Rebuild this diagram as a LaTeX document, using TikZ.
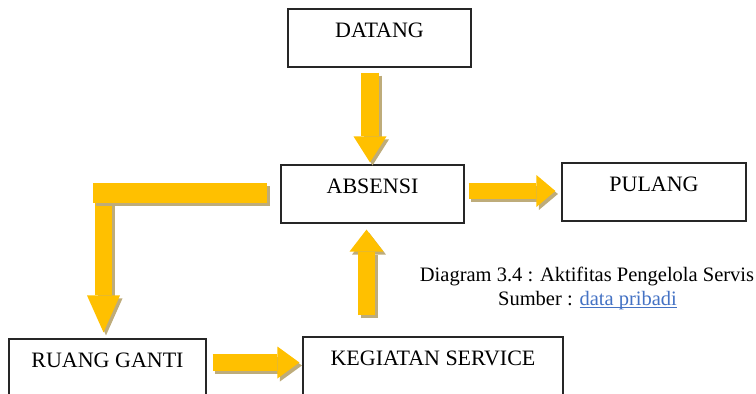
\documentclass[tikz,border=0pt]{standalone}
\usepackage{fontspec}
\setmainfont{Liberation Serif}
\usetikzlibrary{arrows.meta,calc}
\definecolor{arrowyellow}{RGB}{255,192,0}
\definecolor{arrowshadow}{RGB}{190,172,122}
\definecolor{linkblue}{RGB}{68,114,196}
\newcommand\yarrow[2]{%
  \draw[#1, draw=arrowshadow, transform canvas={shift={(2.5pt,-3pt)}}] #2;
  \draw[#1, draw=arrowyellow] #2;}
\newcommand\linkul[1]{\setbox0\hbox{#1}\rlap{\rule[-2.6pt]{\wd0}{0.9pt}}\box0}
\begin{document}
\begin{tikzpicture}[x=1pt,y=-1pt,
  box/.style={draw=black!85, line width=1.2pt, inner sep=0pt, minimum height=58pt,
    text height=28.5pt, text depth=29.5pt, font=\fontsize{22}{26}\selectfont},
  caption/.style={inner sep=0pt, font=\fontsize{20.5}{24.7}\selectfont}]
\clip (0,0) rectangle (756,394);
\node[box, minimum width=183pt] (datang)   at (379.5,38)  {DATANG};
\node[box, minimum width=183pt] (absensi)  at (372.5,194) {ABSENSI};
\node[box, minimum width=184pt] (pulang)   at (654,192)   {PULANG};
\node[box, minimum width=197pt] (ruang)    at (107.5,368) {RUANG GANTI};
\node[box, minimum width=260pt] (kegiatan) at (433,366)   {KEGIATAN SERVICE};

\node[caption, anchor=base] (cap1) at (587,281) {Diagram 3.4 : Aktifitas Pengelola Servis};
\node[caption, anchor=base] (cap2) at (587.5,305.7) {Sumber : {\color{linkblue}\linkul{data pribadi}}};

\coordinate (a1) at ([xshift=-9.5pt]datang.south);
\coordinate (a2) at ([yshift=3pt]absensi.east);
\coordinate (a3) at ([xshift=-4pt]ruang.north);
\coordinate (a3top) at (a3 |- absensi.west);
\coordinate (a3l) at ([xshift=-10.5pt]a3top);
\coordinate (a3h) at ([xshift=-13pt,yshift=1pt]absensi.west);
\coordinate (a4) at ([yshift=5.5pt]ruang.east);
\coordinate (a5) at ([xshift=-66.5pt]kegiatan.north);

\yarrow{line width=18pt, -{Triangle[width=33pt,length=26pt,line width=0pt]}, shorten <=5pt, shorten >=2pt}{(a1) -- (a1 |- absensi.north)}
\yarrow{line width=16pt, -{Triangle[width=32pt,length=19pt,line width=0pt]}, shorten <=4pt, shorten >=6pt}{(a2) -- (a2 -| pulang.west)}
\yarrow{line width=17pt, -{Triangle[width=33pt,length=37pt,line width=0pt]}, shorten >=6pt}{(a3top) -- (a3)}
\yarrow{line width=20pt}{(a3h) -- (a3l |- a3h)}
\yarrow{line width=17pt, -{Triangle[width=32pt,length=22pt,line width=0pt]}, shorten <=6pt, shorten >=3pt}{(a4) -- (a4 -| kegiatan.west)}
\yarrow{line width=17pt, -{Triangle[width=34pt,length=22pt,line width=0pt]}, shorten <=21pt, shorten >=6pt}{(a5) -- (a5 |- absensi.south)}
\end{tikzpicture}
\end{document}
